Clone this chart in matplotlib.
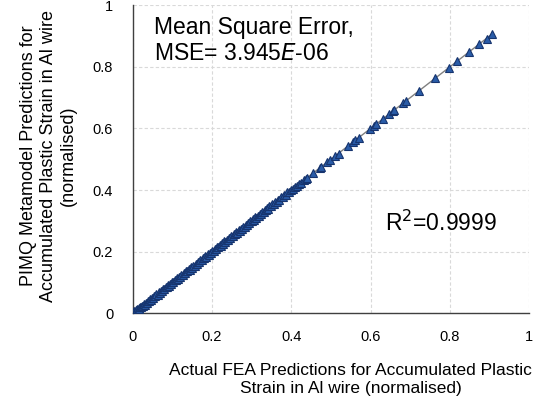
import matplotlib
matplotlib.use('Agg')
import matplotlib.pyplot as plt
import numpy as np

plt.rcParams['font.family'] = ['Liberation Sans', 'DejaVu Sans']

# Actual FEA values (x) and metamodel predictions (y)
actual = [
    0.001, 0.003, 0.004, 0.006, 0.008, 0.009, 0.011, 0.013, 0.015, 0.016,
    0.018, 0.021, 0.023, 0.025, 0.028, 0.030, 0.033, 0.035, 0.038, 0.041,
    0.043, 0.046, 0.049, 0.052, 0.054, 0.057, 0.060, 0.063, 0.066, 0.069,
    0.071, 0.074, 0.077, 0.080, 0.083, 0.086, 0.089, 0.091, 0.094, 0.097,
    0.100, 0.103, 0.106, 0.109, 0.112, 0.114, 0.117, 0.120, 0.123, 0.126,
    0.129, 0.132, 0.135, 0.138, 0.141, 0.144, 0.147, 0.150, 0.153, 0.156,
    0.159, 0.162, 0.165, 0.168, 0.171, 0.174, 0.177, 0.180, 0.183, 0.186,
    0.189, 0.192, 0.195, 0.198, 0.201, 0.204, 0.207, 0.210, 0.213, 0.216,
    0.219, 0.222, 0.225, 0.228, 0.231, 0.234, 0.237, 0.240, 0.243, 0.246,
    0.249, 0.252, 0.255, 0.258, 0.261, 0.264, 0.267, 0.270, 0.273, 0.276,
    0.279, 0.282, 0.285, 0.288, 0.291, 0.294, 0.297, 0.300, 0.303, 0.306,
    0.309, 0.312, 0.315, 0.318, 0.321, 0.324, 0.327, 0.330, 0.333, 0.336,
    0.339, 0.342, 0.345, 0.349, 0.352, 0.356, 0.359, 0.363, 0.366, 0.370,
    0.374, 0.378, 0.382, 0.386, 0.390, 0.395, 0.399, 0.404, 0.409, 0.414,
    0.419, 0.425, 0.431, 0.437, 0.439, 0.455, 0.472, 0.476, 0.489, 0.497,
    0.510, 0.519, 0.542, 0.556, 0.560, 0.571, 0.598, 0.608, 0.613, 0.632,
    0.646, 0.657, 0.660, 0.682, 0.688, 0.723, 0.762, 0.797, 0.818, 0.848,
    0.874, 0.892, 0.905,
]
predicted = [
    0.003, 0.001, 0.006, 0.004, 0.010, 0.007, 0.013, 0.011, 0.017, 0.014,
    0.020, 0.019, 0.025, 0.023, 0.030, 0.028, 0.035, 0.033, 0.040, 0.039,
    0.045, 0.044, 0.051, 0.050, 0.056, 0.055, 0.062, 0.061, 0.068, 0.067,
    0.073, 0.072, 0.079, 0.078, 0.085, 0.084, 0.091, 0.089, 0.096, 0.095,
    0.102, 0.101, 0.108, 0.107, 0.114, 0.112, 0.119, 0.118, 0.125, 0.124,
    0.131, 0.130, 0.137, 0.136, 0.143, 0.142, 0.149, 0.148, 0.155, 0.154,
    0.161, 0.160, 0.167, 0.166, 0.173, 0.172, 0.179, 0.178, 0.185, 0.184,
    0.191, 0.190, 0.197, 0.196, 0.203, 0.202, 0.209, 0.208, 0.215, 0.214,
    0.221, 0.220, 0.227, 0.226, 0.233, 0.232, 0.239, 0.238, 0.245, 0.244,
    0.251, 0.250, 0.257, 0.256, 0.263, 0.262, 0.269, 0.268, 0.275, 0.274,
    0.281, 0.280, 0.287, 0.286, 0.293, 0.292, 0.299, 0.298, 0.305, 0.304,
    0.311, 0.310, 0.317, 0.316, 0.323, 0.322, 0.329, 0.328, 0.335, 0.334,
    0.341, 0.340, 0.347, 0.347, 0.354, 0.354, 0.361, 0.361, 0.368, 0.368,
    0.376, 0.376, 0.384, 0.384, 0.392, 0.393, 0.401, 0.402, 0.411, 0.412,
    0.421, 0.423, 0.433, 0.435, 0.440, 0.454, 0.473, 0.475, 0.490, 0.496,
    0.511, 0.518, 0.543, 0.555, 0.561, 0.570, 0.599, 0.607, 0.614, 0.631,
    0.647, 0.656, 0.661, 0.681, 0.689, 0.722, 0.763, 0.796, 0.819, 0.847,
    0.875, 0.891, 0.906,
]
ticks = [0, 0.2, 0.4, 0.6, 0.8, 1]
tick_labels = ['0', '0.2', '0.4', '0.6', '0.8', '1']

fig = plt.figure(figsize=(5.48, 4.05), dpi=100)
ax = fig.add_axes([0.242, 0.2264, 0.724, 0.761])

# Linear trendline through the points
coef = np.polyfit(actual, predicted, 1)
xl = np.array([min(actual), max(actual)])
ax.plot(xl, np.polyval(coef, xl), color='#808080', lw=1, zorder=2)

ax.plot(actual, predicted, linestyle='none', marker='^', markersize=6,
        markerfacecolor='#2a5ca8', markeredgecolor='#16346e',
        markeredgewidth=0.8, zorder=3)

ax.set_xlim(0, 1)
ax.set_ylim(0, 1)
ax.set_xticks(ticks)
ax.set_xticklabels(tick_labels)
ax.set_yticks(ticks)
ax.set_yticklabels(tick_labels)
ax.tick_params(length=0, labelsize=10.5, pad=14)
ax.tick_params(axis='x', pad=12)
ax.grid(True, linestyle=(0, (3, 2)), color='#d9d9d9', lw=0.8)
ax.set_axisbelow(True)
for s in ['top', 'right']:
    ax.spines[s].set_visible(False)
for s in ['left', 'bottom']:
    ax.spines[s].set_color('#404040')
    ax.spines[s].set_linewidth(1)

ax.set_xlabel('Actual FEA Predictions for Accumulated Plastic\nStrain in Al wire (normalised)',
              fontsize=12.5, linespacing=1.3)
ax.xaxis.set_label_coords(0.55, -0.16)
ax.xaxis.label.set_va('top')
ax.set_ylabel('PIMQ Metamodel Predictions for\nAccumulated Plastic Strain in Al wire\n(normalised)',
              fontsize=13, linespacing=1.25)
ax.yaxis.set_label_coords(-0.14, 0.51)

ax.text(0.054, 0.965, 'Mean Square Error,\nMSE= 3.945$\\mathit{E}$-06',
        transform=ax.transAxes, fontsize=16.5, va='top', ha='left', linespacing=1.15)
ax.text(0.636, 0.267, 'R$^2$=0.9999', transform=ax.transAxes, fontsize=16.5,
        va='baseline', ha='left')

fig.savefig('out.png', dpi=100)
